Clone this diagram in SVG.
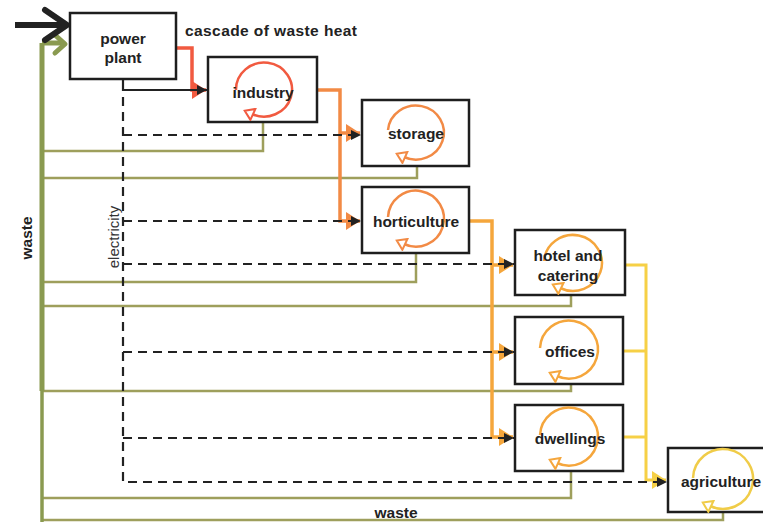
<svg xmlns="http://www.w3.org/2000/svg" width="763" height="524" viewBox="0 0 763 524">
<style>
.box{fill:#fff;stroke:#1e1e1e;stroke-width:2.5}
.lbl{font-family:"Liberation Sans",Arial,sans-serif;font-weight:bold;font-size:15.5px;fill:#222;text-anchor:middle}
.waste{fill:none;stroke:#9e9f5c;stroke-width:2.5}
.dash{fill:none;stroke:#222;stroke-width:2.2;stroke-dasharray:9,6}
.red{fill:none;stroke:#f15a40;stroke-width:3.5}
.org{fill:none;stroke:#f28a45;stroke-width:3.5}
.lor{fill:none;stroke:#f5a63c;stroke-width:3.5}
.yel{fill:none;stroke:#f6d046;stroke-width:3}
.cyc{fill:none;stroke-width:2.5}
</style>
<defs>
<marker id="mb" markerUnits="userSpaceOnUse" markerWidth="12" markerHeight="12" refX="10" refY="6" orient="auto"><path d="M0,1 L10,6 L0,11 Z" fill="#222"/></marker>
<marker id="mr" markerUnits="userSpaceOnUse" markerWidth="16" markerHeight="20" refX="14" refY="10" orient="auto"><path d="M0,1 L14,10 L0,19 Z" fill="#f15a40"/></marker>
<marker id="mo" markerUnits="userSpaceOnUse" markerWidth="16" markerHeight="20" refX="14" refY="10" orient="auto"><path d="M0,1 L14,10 L0,19 Z" fill="#f28a45"/></marker>
<marker id="ml" markerUnits="userSpaceOnUse" markerWidth="16" markerHeight="20" refX="14" refY="10" orient="auto"><path d="M0,1 L14,10 L0,19 Z" fill="#f5a63c"/></marker>
<marker id="my" markerUnits="userSpaceOnUse" markerWidth="16" markerHeight="20" refX="14" refY="10" orient="auto"><path d="M0,1 L14,10 L0,19 Z" fill="#f6d046"/></marker>
<marker id="cr" markerUnits="userSpaceOnUse" markerWidth="14" markerHeight="14" refX="3" refY="7" orient="auto"><path d="M2,1 L11,7 L2,13 Z" fill="#fff" stroke="#f15a40" stroke-width="2"/></marker>
<marker id="co" markerUnits="userSpaceOnUse" markerWidth="14" markerHeight="14" refX="3" refY="7" orient="auto"><path d="M2,1 L11,7 L2,13 Z" fill="#fff" stroke="#f28a45" stroke-width="2"/></marker>
<marker id="cl" markerUnits="userSpaceOnUse" markerWidth="14" markerHeight="14" refX="3" refY="7" orient="auto"><path d="M2,1 L11,7 L2,13 Z" fill="#fff" stroke="#f5a63c" stroke-width="2"/></marker>
<marker id="cy" markerUnits="userSpaceOnUse" markerWidth="14" markerHeight="14" refX="3" refY="7" orient="auto"><path d="M2,1 L11,7 L2,13 Z" fill="#fff" stroke="#f0cc48" stroke-width="2"/></marker>
</defs>
<rect width="763" height="524" fill="#fff"/>

<g id="connectors">
  <!-- waste returns -->
  <path class="waste" d="M263,122 V151 H43"/>
  <path class="waste" d="M417,166 V178 H43"/>
  <path class="waste" d="M416,253 V282 H43"/>
  <path class="waste" d="M571,295 V306 H43"/>
  <path class="waste" d="M571,384 V391 H43"/>
  <path class="waste" d="M571,471 V498 H43"/>
  <path class="waste" d="M723,512 V520 H41"/>
  <path d="M42,391 V43" fill="none" stroke="#8a9a50" stroke-width="5"/>
  <path d="M42,522 V389" fill="none" stroke="#8a9a50" stroke-width="3.5"/>
  <path d="M42,43 H62" fill="none" stroke="#8a9a50" stroke-width="5"/>
  <path d="M55,35 L65,44 L55,53" fill="none" stroke="#8a9a50" stroke-width="5" stroke-linecap="round" stroke-linejoin="round"/>
  <!-- fuel input -->
  <path d="M15,25 H64" fill="none" stroke="#222" stroke-width="6"/>
  <path d="M45,10 L67,25 L45,40" fill="none" stroke="#222" stroke-width="6" stroke-linecap="round" stroke-linejoin="round"/>
  <!-- heat cascade -->
  <path class="red" d="M176,48 H192 V90 H206" marker-end="url(#mr)"/>
  <path class="org" d="M317,90 H340 V221 H360" marker-end="url(#mo)"/>
  <path class="org" d="M340,133 H360" marker-end="url(#mo)"/>
  <path class="lor" d="M469,221 H492 V437 H513" marker-end="url(#ml)"/>
  <path class="lor" d="M492,265 H513" marker-end="url(#ml)"/>
  <path class="lor" d="M492,352 H513" marker-end="url(#ml)"/>
  <path class="yel" d="M623,265 H646 V480 H666" marker-end="url(#my)"/>
  <path class="yel" d="M623,351 H646"/>
  <path class="yel" d="M623,437 H646"/>
  <!-- electricity -->
  <path d="M123,79 V90 H207" fill="none" stroke="#222" stroke-width="2.2" marker-end="url(#mb)"/>
  <path class="dash" d="M123,97 V482 H667" marker-end="url(#mb)"/>
  <path class="dash" d="M123,135 H361" marker-end="url(#mb)"/>
  <path class="dash" d="M123,221 H361" marker-end="url(#mb)"/>
  <path class="dash" d="M123,264 H514" marker-end="url(#mb)"/>
  <path class="dash" d="M123,352 H514" marker-end="url(#mb)"/>
  <path class="dash" d="M123,438 H514" marker-end="url(#mb)"/>
</g>

<g id="power-plant">
  <rect class="box" x="70" y="13" width="106" height="66"/>
  <text class="lbl" x="123" y="44">power</text>
  <text class="lbl" x="123" y="63">plant</text>
</g>
<g id="industry">
  <rect class="box" x="208" y="57" width="109" height="65"/>
  <path class="cyc" stroke="#f15a40" d="M236,90 A28,27 0 1 1 252,114" marker-end="url(#cr)"/>
  <text class="lbl" x="263" y="98">industry</text>
</g>
<g id="storage">
  <rect class="box" x="362" y="100" width="107" height="66"/>
  <path class="cyc" stroke="#f28a45" d="M388,130 A28,27 0 1 1 404,157" marker-end="url(#co)"/>
  <text class="lbl" x="416" y="139">storage</text>
</g>
<g id="horticulture">
  <rect class="box" x="362" y="187" width="107" height="66"/>
  <path class="cyc" stroke="#f28a45" d="M388,217 A28,28 0 1 1 404,244" marker-end="url(#co)"/>
  <text class="lbl" x="416" y="227">horticulture</text>
</g>
<g id="hotel-and-catering">
  <rect class="box" x="515" y="230" width="110" height="65"/>
  <path class="cyc" stroke="#f5a63c" d="M544,261 A29,28 0 1 1 560,288" marker-end="url(#cl)"/>
  <text class="lbl" x="568" y="261">hotel and</text>
  <text class="lbl" x="568" y="281">catering</text>
</g>
<g id="offices">
  <rect class="box" x="515" y="317" width="108" height="67"/>
  <path class="cyc" stroke="#f5a63c" d="M540,348 A29,29 0 1 1 557,376" marker-end="url(#cl)"/>
  <text class="lbl" x="570" y="357">offices</text>
</g>
<g id="dwellings">
  <rect class="box" x="515" y="405" width="108" height="66"/>
  <path class="cyc" stroke="#f5a63c" d="M540,435 A29,29 0 1 1 557,463" marker-end="url(#cl)"/>
  <text class="lbl" x="570" y="444">dwellings</text>
</g>
<g id="agriculture">
  <rect class="box" x="668" y="448" width="120" height="64"/>
  <path class="cyc" stroke="#f0cc48" d="M693,478 A30,30 0 1 1 710,506" marker-end="url(#cy)"/>
  <text class="lbl" x="681" y="487" style="text-anchor:start">agriculture</text>
</g>

<g id="labels">
  <text class="lbl" x="185" y="36" style="text-anchor:start" textLength="172">cascade of waste heat</text>
  <text class="lbl" x="0" y="0" transform="translate(32,238) rotate(-90)">waste</text>
  <text x="0" y="0" transform="translate(119,237) rotate(-90)" style="font-family:'Liberation Sans',Arial,sans-serif;font-size:15px;fill:#333;text-anchor:middle">electricity</text>
  <text class="lbl" x="396" y="518">waste</text>
</g>
</svg>
